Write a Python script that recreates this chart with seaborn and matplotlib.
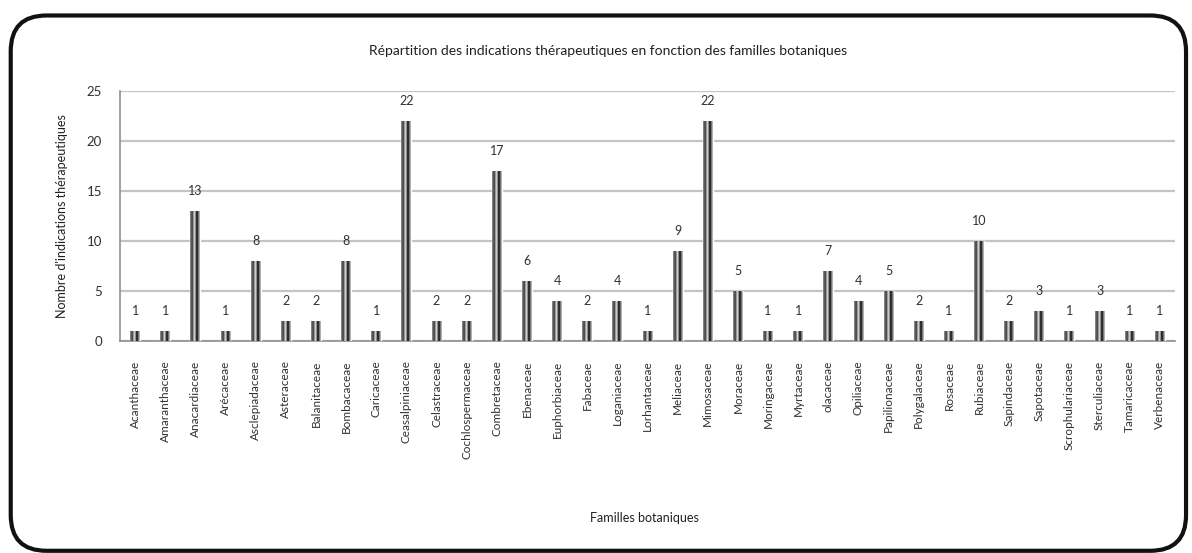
import matplotlib
matplotlib.use("Agg")
import matplotlib.pyplot as plt
from matplotlib.patches import FancyBboxPatch
from matplotlib.colors import LinearSegmentedColormap
import numpy as np
import pandas as pd
import seaborn as sns

families = [
    "Acanthaceae", "Amaranthaceae", "Anacardiaceae", "Arécaceae", "Asclepiadaceae",
    "Asteraceae", "Balanitaceae", "Bombacaceae", "Caricaceae", "Ceasalpiniaceae",
    "Celastraceae", "Cochlospermaceae", "Combretaceae", "Ebenaceae", "Euphorbiaceae",
    "Fabaceae", "Loganiaceae", "Lorhantaceae", "Meliaceae", "Mimosaceae",
    "Moraceae", "Moringaceae", "Myrtaceae", "olacaceae", "Opiliaceae",
    "Papilionaceae", "Polygalaceae", "Rosaceae", "Rubiaceae", "Sapindaceae",
    "Sapotaceae", "Scrophulariaceae", "Sterculiaceae", "Tamaricaceae", "Verbenaceae",
]
indications = [
    1, 1, 13, 1, 8,
    2, 2, 8, 1, 22,
    2, 2, 17, 6, 4,
    2, 4, 1, 9, 22,
    5, 1, 1, 7, 4,
    5, 2, 1, 10, 2,
    3, 1, 3, 1, 1,
]
yticks = [0, 5, 10, 15, 20, 25]

title = "Répartition des indications thérapeutiques en fonction des familles botaniques"
xlabel = "Familles botaniques"
ylabel = "Nombre d'indications thérapeutiques"

df = pd.DataFrame({"famille": families, "n": indications})

sns.set_theme(style="white")
plt.rcParams["font.family"] = ["Lato", "DejaVu Sans"]

fig = plt.figure(figsize=(11.92, 5.53), dpi=100)
ax = fig.add_axes([0.1007, 0.3834, 0.885, 0.452])

sns.barplot(data=df, x="famille", y="n", color="#808080", width=0.33,
            saturation=1, ax=ax, zorder=3)

# striped "cylinder" shading across each bar
stripes = LinearSegmentedColormap.from_list(
    "stripes",
    ["#9a9a9a", "#5a5a5a", "#3a3a3a", "#bcbcbc", "#e0e0e0", "#2a2a2a", "#1a1a1a", "#8a8a8a", "#c8c8c8"],
)
grad = np.linspace(0, 1, 64).reshape(1, -1)
for p in ax.patches:
    x0, w, h = p.get_x(), p.get_width(), p.get_height()
    im = ax.imshow(grad, cmap=stripes, aspect="auto", extent=(x0, x0 + w, 0, h),
                   zorder=4, interpolation="bilinear")
    im.set_clip_path(p)

ax.set_xlim(-0.5, len(families) - 0.5)
ax.set_ylim(0, 25)
ax.set_yticks(yticks)
ax.set_yticklabels([str(t) for t in yticks], fontsize=9.5, color="#303030")

for i, v in enumerate(indications):
    ax.text(i, v + 2.0, str(v), ha="center", va="center", fontsize=9,
            color="#303030", zorder=5)

ax.set_xticks(range(len(families)))
ax.set_xticklabels(families, rotation=90, fontsize=8.5, color="#303030")
ax.tick_params(axis="x", length=0, pad=14)
# category boundary tick marks
ax.set_xticks(np.arange(-0.5, len(families), 1.0), minor=True)
ax.tick_params(axis="x", which="minor", length=5, color="#808080", width=1, direction="out")
ax.tick_params(axis="y", length=5, color="#808080", width=1, direction="out", pad=8)

ax.grid(axis="y", color="#c4c4c4", linewidth=1.6, zorder=0)
ax.set_axisbelow(True)
for side in ["top", "right"]:
    ax.spines[side].set_visible(False)
for side in ["left", "bottom"]:
    ax.spines[side].set_color("#909090")
    ax.spines[side].set_linewidth(1.2)

ax.set_xlabel("")
ax.set_ylabel("")
fig.text(0.541, 0.063, xlabel, ha="center", va="center", fontsize=9, color="#202020")
fig.text(0.052, 0.61, ylabel, ha="center", va="center", rotation=90, fontsize=9,
         color="#202020")
fig.text(0.51, 0.907, title, ha="center", va="center", fontsize=10, color="#202020")

# rounded outer frame
frame = FancyBboxPatch((0.009, 0.004), 0.986, 0.968, transform=fig.transFigure,
                       boxstyle="round,pad=0,rounding_size=0.03",
                       fill=False, edgecolor="#111111", linewidth=3,
                       mutation_aspect=1192 / 553)
fig.patches.append(frame)

fig.savefig("out.png", dpi=100)
